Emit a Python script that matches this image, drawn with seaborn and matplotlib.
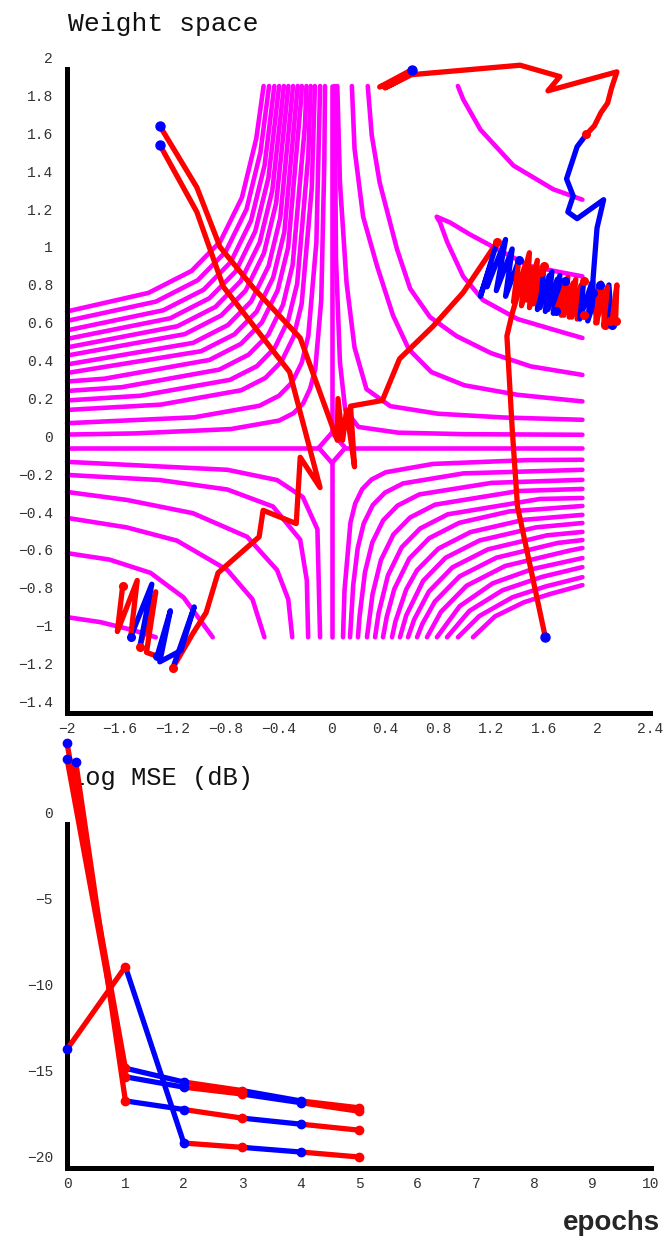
import matplotlib
matplotlib.use("Agg")
import matplotlib.pyplot as plt
import matplotlib.transforms as mtransforms
import seaborn as sns

# ---- contour lines of the error surface (w1, w2) ----
contour_ul = [
    [(-2, 0.72), (-1.385, 0.818), (-1.06, 0.934), (-0.843, 1.089), (-0.68, 1.321), (-0.572, 1.631), (-0.516, 1.91)],
    [(-2, 0.67), (-1.329, 0.772), (-1.013, 0.885), (-0.803, 1.035), (-0.645, 1.26), (-0.54, 1.561), (-0.475, 1.91)],
    [(-2, 0.62), (-1.274, 0.726), (-0.968, 0.835), (-0.764, 0.981), (-0.611, 1.2), (-0.509, 1.491), (-0.435, 1.91)],
    [(-2, 0.575), (-1.221, 0.684), (-0.925, 0.79), (-0.727, 0.931), (-0.579, 1.143), (-0.48, 1.425), (-0.399, 1.91)],
    [(-2, 0.53), (-1.166, 0.642), (-0.88, 0.744), (-0.689, 0.88), (-0.546, 1.084), (-0.451, 1.357), (-0.363, 1.91)],
    [(-2, 0.487), (-1.112, 0.6), (-0.836, 0.699), (-0.652, 0.83), (-0.514, 1.027), (-0.422, 1.29), (-0.329, 1.91)],
    [(-2, 0.44), (-1.049, 0.554), (-0.786, 0.648), (-0.61, 0.773), (-0.478, 0.961), (-0.391, 1.212), (-0.294, 1.91)],
    [(-2, 0.395), (-0.988, 0.51), (-0.737, 0.599), (-0.569, 0.719), (-0.444, 0.899), (-0.36, 1.138), (-0.259, 1.91)],
    [(-2, 0.35), (-1.717, 0.365), (-0.925, 0.464), (-0.687, 0.549), (-0.529, 0.662), (-0.41, 0.832), (-0.331, 1.058), (-0.232, 1.85), (-0.228, 1.91)],
    [(-2, 0.30), (-1.588, 0.32), (-0.85, 0.413), (-0.629, 0.492), (-0.481, 0.597), (-0.37, 0.755), (-0.297, 0.966), (-0.204, 1.704), (-0.193, 1.91)],
    [(-2, 0.25), (-1.446, 0.275), (-0.77, 0.359), (-0.567, 0.431), (-0.432, 0.528), (-0.331, 0.673), (-0.263, 0.866), (-0.179, 1.542), (-0.161, 1.91)],
    [(-2, 0.20), (-1.293, 0.228), (-0.685, 0.304), (-0.503, 0.369), (-0.381, 0.456), (-0.29, 0.586), (-0.229, 0.76), (-0.153, 1.368), (-0.129, 1.91)],
    [(-2, 0.13), (-1.04, 0.161), (-0.548, 0.222), (-0.4, 0.275), (-0.302, 0.345), (-0.228, 0.45), (-0.179, 0.591), (-0.118, 1.083), (-0.09, 1.91)],
    [(-2, 0.07), (-1.491, 0.076), (-0.763, 0.099), (-0.399, 0.144), (-0.29, 0.183), (-0.217, 0.235), (-0.165, 0.313), (-0.126, 0.417), (-0.081, 0.781), (-0.058, 1.509), (-0.053, 1.91)],
]
contour_ur = [
    [(0.27, 1.91), (0.30, 1.65), (0.36, 1.40), (0.49, 1.05), (0.59, 0.84), (0.74, 0.69), (0.94, 0.59), (1.2, 0.50), (1.5, 0.43), (1.89, 0.385)],
    [(0.15, 1.91), (0.17, 1.58), (0.235, 1.22), (0.34, 0.96), (0.46, 0.70), (0.58, 0.52), (0.75, 0.40), (1.0, 0.33), (1.4, 0.28), (1.89, 0.245)],
    [(0.04, 1.91), (0.06, 1.40), (0.11, 0.87), (0.17, 0.53), (0.26, 0.31), (0.44, 0.22), (0.8, 0.18), (1.3, 0.16), (1.89, 0.148)],
    [(0.02, 1.91), (0.03, 1.0), (0.06, 0.45), (0.1, 0.2), (0.2, 0.11), (0.5, 0.08), (1.0, 0.072), (1.89, 0.069)],
    [(0.95, 1.91), (0.99, 1.84), (1.12, 1.68), (1.37, 1.49), (1.67, 1.365), (1.89, 1.31)],
    [(1.89, 0.905), (1.74, 0.925), (1.49, 0.96), (1.245, 1.05), (1.04, 1.127), (0.89, 1.19), (0.79, 1.22),
     (0.815, 1.19), (0.87, 1.085), (0.99, 0.905), (1.14, 0.78), (1.40, 0.68), (1.74, 0.61), (1.89, 0.58)],
]
contour_ll = [
    [(-2, -0.894), (-1.75, -0.92), (-1.5, -0.963), (-1.33, -1.0)],
    [(-2, -0.556), (-1.68, -0.59), (-1.37, -0.66), (-1.12, -0.79), (-0.90, -1.0)],
    [(-2, -0.37), (-1.55, -0.42), (-1.17, -0.49), (-0.79, -0.645), (-0.60, -0.80), (-0.51, -1.0)],
    [(-2, -0.233), (-1.55, -0.275), (-1.05, -0.345), (-0.64, -0.47), (-0.415, -0.645), (-0.33, -0.8), (-0.30, -1.0)],
    [(-2, -0.143), (-1.30, -0.17), (-0.79, -0.22), (-0.445, -0.31), (-0.24, -0.485), (-0.19, -0.7), (-0.18, -1.0)],
    [(-2, -0.074), (-0.79, -0.116), (-0.415, -0.17), (-0.22, -0.26), (-0.11, -0.43), (-0.09, -1.0)],
]
contour_lr = [
    [(0.083, -1), (0.0945, -0.752), (0.139, -0.396), (0.175, -0.294), (0.228, -0.218), (0.299, -0.167), (0.406, -0.129), (0.762, -0.085), (1.474, -0.065), (1.89, -0.063)],
    [(0.136, -1), (0.16, -0.726), (0.194, -0.53), (0.239, -0.4), (0.308, -0.302), (0.399, -0.237), (0.536, -0.188), (0.992, -0.135), (1.89, -0.116)],
    [(0.196, -1), (0.208, -0.89), (0.249, -0.656), (0.304, -0.5), (0.386, -0.383), (0.495, -0.305), (0.659, -0.246), (1.205, -0.185), (1.89, -0.169)],
    [(0.264, -1), (0.306, -0.773), (0.369, -0.593), (0.463, -0.458), (0.589, -0.368), (0.778, -0.3), (1.408, -0.228), (1.89, -0.217)],
    [(0.325, -1), (0.352, -0.873), (0.422, -0.674), (0.526, -0.525), (0.665, -0.426), (0.874, -0.351), (1.57, -0.27), (1.89, -0.265)],
    [(0.385, -1), (0.413, -0.893), (0.47, -0.746), (0.583, -0.585), (0.734, -0.477), (0.96, -0.396), (1.337, -0.336), (1.89, -0.307)],
    [(0.453, -1), (0.479, -0.916), (0.56, -0.748), (0.641, -0.647), (0.803, -0.532), (1.045, -0.445), (1.449, -0.38), (1.89, -0.354)],
    [(0.513, -1), (0.56, -0.885), (0.688, -0.702), (0.858, -0.58), (1.114, -0.489), (1.54, -0.42), (1.89, -0.397)],
    [(0.574, -1), (0.62, -0.907), (0.731, -0.759), (0.909, -0.631), (1.177, -0.536), (1.623, -0.462), (1.89, -0.444)],
    [(0.642, -1), (0.683, -0.928), (0.776, -0.812), (0.962, -0.679), (1.241, -0.58), (1.706, -0.502), (1.89, -0.487)],
    [(0.717, -1), (0.822, -0.866), (1.016, -0.728), (1.306, -0.624), (1.79, -0.543), (1.89, -0.529)],
    [(0.792, -1), (0.9635, -0.836), (1.2135, -0.715), (1.5135, -0.64), (1.89, -0.582)],
    [(0.868, -1), (1.037, -0.861), (1.287, -0.752), (1.587, -0.681), (1.89, -0.63)],
    [(0.951, -1), (1.112, -0.888), (1.362, -0.789), (1.612, -0.732), (1.89, -0.683)],
    [(1.064, -1), (1.23, -0.89), (1.45, -0.815), (1.65, -0.771), (1.89, -0.725)],
]
contour_axes = [
    [(-2, 0), (-0.1, 0)],
    [(0.1, 0), (1.89, 0)],
    [(0, 1.91), (0, 0.08)],
    [(0, -0.08), (0, -1.0)],
    [(-0.1, 0), (0, 0.08), (0.1, 0), (0, -0.08), (-0.1, 0)],
]

# ---- weight trajectories, one list of points per epoch ----
path_a = [
    [(-1.30, 1.70), (-1.02, 1.375), (-0.845, 1.06), (-0.60, 0.85), (-0.24, 0.58), (0.04, 0.04), (0.045, 0.26),
     (0.08, 0.04), (0.11, 0.20), (0.17, -0.10), (0.14, 0.22), (0.38, 0.25), (0.51, 0.47), (0.76, 0.64), (0.99, 0.82), (1.245, 1.085)],
    [(1.245, 1.085), (1.12, 0.80), (1.20, 0.97), (1.17, 0.85), (1.31, 1.10), (1.24, 0.83), (1.36, 1.05), (1.31, 0.80), (1.41, 0.99)],
    [(1.41, 0.99), (1.37, 0.77), (1.46, 0.97), (1.43, 0.75), (1.52, 0.95), (1.49, 0.74), (1.58, 0.93)],
    [(1.58, 0.93), (1.55, 0.73), (1.64, 0.91), (1.61, 0.72), (1.70, 0.89), (1.67, 0.71), (1.76, 0.88)],
    [(1.76, 0.88), (1.73, 0.70), (1.82, 0.87), (1.79, 0.69), (1.88, 0.86), (1.85, 0.68), (1.90, 0.70)],
]
path_b = [
    [(-1.30, 1.60), (-1.02, 1.245), (-0.82, 0.85), (-0.32, 0.40), (-0.09, -0.21), (-0.24, -0.05), (-0.27, -0.40),
     (-0.52, -0.33), (-0.55, -0.47), (-0.86, -0.66), (-0.95, -0.87), (-1.05, -0.98), (-1.20, -1.16)],
    [(-1.20, -1.16), (-1.04, -0.84), (-1.14, -1.07), (-1.22, -1.10), (-1.30, -1.13), (-1.22, -0.86), (-1.32, -1.10)],
    [(-1.32, -1.10), (-1.40, -1.08), (-1.33, -0.76), (-1.45, -1.05)],
    [(-1.45, -1.05), (-1.36, -0.72), (-1.52, -1.00)],
    [(-1.52, -1.00), (-1.47, -0.70), (-1.62, -0.97), (-1.58, -0.73)],
]
path_c = [
    [(0.60, 1.995), (0.36, 1.905), (0.56, 1.96), (0.40, 1.90), (0.60, 1.97), (1.42, 2.02), (1.72, 1.96), (1.63, 1.885),
     (2.15, 1.985), (2.11, 1.90), (2.08, 1.82), (2.03, 1.77), (1.98, 1.70), (1.92, 1.655)],
    [(1.92, 1.655), (1.85, 1.59), (1.77, 1.42), (1.82, 1.33), (1.78, 1.245), (1.85, 1.21), (2.05, 1.31), (2.0, 1.16), (1.97, 0.89), (1.97, 0.82)],
    [(1.97, 0.82), (2.0, 0.66), (2.03, 0.87), (2.06, 0.65)],
    [(2.06, 0.65), (2.09, 0.86), (2.11, 0.65)],
    [(2.11, 0.65), (2.15, 0.86), (2.14, 0.67)],
]
path_d = [
    [(1.61, -1.0), (1.40, -0.31), (1.36, 0.10), (1.32, 0.59), (1.36, 0.71), (1.42, 0.85), (1.49, 1.03), (1.47, 0.78), (1.55, 0.99), (1.52, 0.76), (1.60, 0.96)],
    [(1.60, 0.96), (1.57, 0.74), (1.66, 0.93), (1.63, 0.73), (1.72, 0.91), (1.69, 0.72)],
    [(1.69, 0.72), (1.78, 0.90), (1.75, 0.70), (1.84, 0.89), (1.81, 0.69), (1.90, 0.88)],
    [(1.90, 0.88), (1.87, 0.68), (1.96, 0.87), (1.93, 0.67), (2.02, 0.86)],
    [(2.02, 0.86), (1.99, 0.66), (2.08, 0.85), (2.05, 0.65), (2.10, 0.67)],
]

# ---- learning curves (log MSE in dB per epoch) ----
epochs = [0, 1, 2, 3, 4, 5]
epochs_c = [0.15, 1, 2, 3, 4, 5]
loss_a = [4.7, -14.2, -15.0, -15.5, -16.1, -16.5]
loss_b = [3.8, -14.7, -15.3, -15.7, -16.2, -16.7]
loss_c = [3.6, -16.1, -16.6, -17.1, -17.45, -17.8]
loss_d = [-13.1, -8.3, -18.55, -18.8, -19.07, -19.36]

w_xticks = [-2, -1.6, -1.2, -0.8, -0.4, 0, 0.4, 0.8, 1.2, 1.6, 2, 2.4]
w_xlabels = ["−2", "−1.6", "−1.2", "−0.8", "−0.4", "0", "0.4", "0.8", "1.2", "1.6", "2", "2.4"]
w_yticks = [2, 1.8, 1.6, 1.4, 1.2, 1, 0.8, 0.6, 0.4, 0.2, 0, -0.2, -0.4, -0.6, -0.8, -1, -1.2, -1.4]
w_ylabels = ["2", "1.8", "1.6", "1.4", "1.2", "1", "0.8", "0.6", "0.4", "0.2", "0",
             "−0.2", "−0.4", "−0.6", "−0.8", "−1", "−1.2", "−1.4"]
e_xticks = list(range(11))
e_yticks = [0, -5, -10, -15, -20]
e_ylabels = ["0", "−5", "−10", "−15", "−20"]

RED, BLUE, MAG = "#ff0000", "#0000ff", "#ff00ff"
epoch_colors = [RED, BLUE, RED, BLUE, RED]

sns.set_style("white")
plt.rcParams["font.family"] = ["Liberation Mono", "DejaVu Sans"]

fig = plt.figure(figsize=(6.67, 12.39), dpi=100)
ax1 = fig.add_axes([67 / 667, 1 - 713 / 1239, 583 / 667, 644 / 1239])
ax2 = fig.add_axes([67 / 667, 1 - 1168 / 1239, 584 / 667, 344 / 1239])


def line(ax, pts, color, lw, z):
    xs = [p[0] for p in pts]
    ys = [p[1] for p in pts]
    sns.lineplot(x=xs, y=ys, ax=ax, color=color, lw=lw, sort=False, estimator=None,
                 zorder=z, clip_on=False, solid_joinstyle="round", solid_capstyle="round")


# contours
for group in (contour_ul, contour_ur, contour_ll, contour_lr, contour_axes):
    for c in group:
        line(ax1, c, MAG, 3.3, 2)

# trajectories
for path in (path_a, path_b, path_c, path_d):
    for k, seg in enumerate(path):
        line(ax1, seg, epoch_colors[k], 3.8, 3)
        ax1.plot(seg[-1][0], seg[-1][1], "o", color=epoch_colors[k], ms=5.5, zorder=4, clip_on=False)
    ax1.plot(path[0][0][0], path[0][0][1], "o", color=BLUE, ms=6.5, zorder=5, clip_on=False)

# learning curves
for xs, ys in ((epochs, loss_a), (epochs, loss_b), (epochs_c, loss_c), (epochs, loss_d)):
    for k in range(len(xs) - 1):
        line(ax2, [(xs[k], ys[k]), (xs[k + 1], ys[k + 1])], epoch_colors[k], 3.8, 3)
        ax2.plot(xs[k + 1], ys[k + 1], "o", color=epoch_colors[k], ms=6, zorder=4, clip_on=False)
    ax2.plot(xs[0], ys[0], "o", color=BLUE, ms=6, zorder=5, clip_on=False)


def style_axes(ax, xt, xl, yt, yl, xlim, ylim):
    ax.set_xlim(*xlim)
    ax.set_ylim(*ylim)
    for s in ("top", "right"):
        ax.spines[s].set_visible(False)
    for s in ("left", "bottom"):
        ax.spines[s].set_linewidth(3.6)
        ax.spines[s].set_color("black")
    ax.set_xticks(xt)
    ax.set_yticks(yt)
    ax.set_xticklabels([])
    ax.set_yticklabels([])
    ax.tick_params(direction="inout", length=7.5, width=3.6, color="black")
    ax.set_xlabel("")
    ax.set_ylabel("")
    ax.patch.set_alpha(0)
    up = mtransforms.ScaledTranslation(-0.14, 0.10, fig.dpi_scale_trans)
    for v, s in zip(yt, yl):
        ax.text(0, v, s, transform=ax.get_yaxis_transform() + up, ha="right", va="center",
                fontsize=10.5, color="#333333", clip_on=False)
    down = mtransforms.ScaledTranslation(0, -0.16, fig.dpi_scale_trans)
    for v, s in zip(xt, xl):
        ax.text(v, 0, s, transform=ax.get_xaxis_transform() + down, ha="center", va="center",
                fontsize=10.5, color="#333333", clip_on=False)


style_axes(ax1, w_xticks, w_xlabels, w_yticks, w_ylabels, (-2, 2.4), (-1.4, 2))
style_axes(ax2, e_xticks, [str(v) for v in e_xticks], e_yticks, e_ylabels, (0, 10), (-20, 0))

fig.text(68 / 667, 1 - 24 / 1239, "Weight space", ha="left", va="center", fontsize=19, color="#111111")
ax2.text(70 / 667, 1 - 778 / 1239, "Log MSE (dB)", transform=fig.transFigure, ha="left", va="center",
         fontsize=18.4, color="#111111", zorder=1, clip_on=False)
fig.text(660 / 667, 1 - 1223 / 1239, "epochs", ha="right", va="center", fontsize=20,
         fontweight="bold", family="Liberation Sans")

fig.savefig("out.png", dpi=100)
